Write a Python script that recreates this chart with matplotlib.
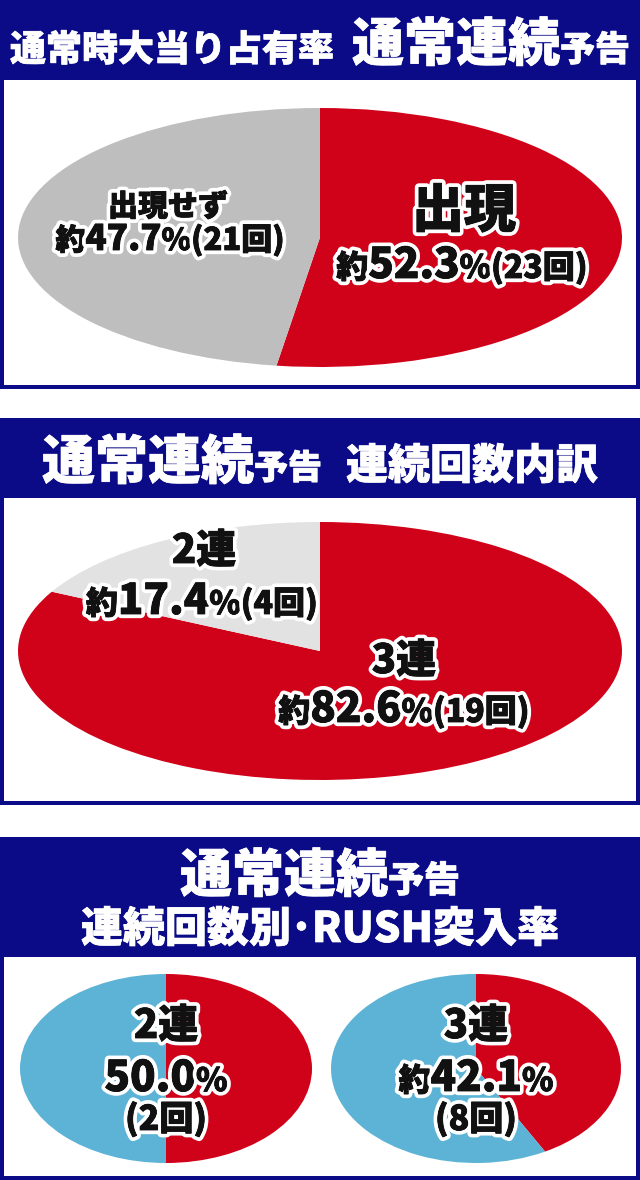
import matplotlib.pyplot as plt
import matplotlib.patheffects as pe
from matplotlib.patches import Rectangle

plt.rcParams['font.family'] = ['Noto Sans CJK JP', 'DejaVu Sans']

# colours
NAVY = "#0b0b88"
RED = "#d0021a"
GRAY = "#bebebe"
LIGHT = "#e2e2e2"
BLUE = "#5db3d6"

# data: share of 通常連続予告 among normal-time hits
share_labels = ["出現", "出現せず"]
share_pct = [52.3, 47.7]
share_cnt = [23, 21]

# breakdown of chain count
chain_labels = ["3連", "2連"]
chain_pct = [82.6, 17.4]
chain_cnt = [19, 4]

# RUSH entry rate by chain count
rush_labels = ["2連", "3連"]
rush_pct = [50.0, 42.1]
rush_cnt = [2, 8]
rush_approx = [False, True]

W, H = 640, 1180
fig = plt.figure(figsize=(W / 100, H / 100), dpi=100)
fig.patch.set_facecolor("white")

base = fig.add_axes([0, 0, 1, 1], zorder=0)
base.set_xlim(0, W)
base.set_ylim(H, 0)
base.axis("off")

top = fig.add_axes([0, 0, 1, 1], zorder=5)
top.set_xlim(0, W)
top.set_ylim(H, 0)
top.axis("off")
top.patch.set_alpha(0)


def panel(y0, y_head, y1):
    # navy frame + header, white body
    base.add_patch(Rectangle((0, y0), W, y1 - y0, color=NAVY, lw=0))
    base.add_patch(Rectangle((4, y_head), W - 8, y1 - y_head - 4, color="white", lw=0))


panel(0, 80, 389)
panel(418, 498, 805)
panel(837, 957, 1180)


def pie_axes(x0, y0, x1, y1, values, colors):
    ax = fig.add_axes([x0 / W, 1 - y1 / H, (x1 - x0) / W, (y1 - y0) / H], zorder=2)
    ax.pie(values, colors=colors, startangle=90, counterclock=False,
           radius=1, wedgeprops=dict(linewidth=0))
    ax.set_aspect("auto")
    ax.set_xlim(-1, 1)
    ax.set_ylim(-1, 1)
    ax.axis("off")
    return ax


pie_axes(18, 108, 622, 367, share_pct, [RED, GRAY])
pie_axes(18, 522, 622, 780, chain_pct, [RED, LIGHT])
for i, (x0, x1) in enumerate([(20, 312), (331, 621)]):
    pie_axes(x0, 974, x1, 1163, [rush_pct[i], 100 - rush_pct[i]], [RED, BLUE])

renderer = fig.canvas.get_renderer()
INK = "#111111"
outlined = [pe.withStroke(linewidth=6, foreground="white"),
            pe.withStroke(linewidth=0.6, foreground=INK)]
heavy_white = [pe.withStroke(linewidth=0.5, foreground="white")]


def rich(x, y, pieces, color=INK, effects=outlined):
    # pieces: (text, size in px); centred at x, baseline y
    texts = []
    for s, px in pieces:
        t = top.text(0, y, s, fontsize=px * 0.72, fontweight="black", color=color,
                     ha="left", va="baseline", path_effects=effects)
        texts.append(t)
    widths = [t.get_window_extent(renderer).width for t in texts]
    cur = x - sum(widths) / 2
    for t, w in zip(texts, widths):
        t.set_x(cur)
        cur += w


# headers
rich(320, 61, [("通常時大当り占有率", 36), ("　", 18), ("通常連続", 52), ("予告", 35)],
     color="white", effects=heavy_white)
rich(320, 479, [("通常連続", 53), ("予告", 34), ("　", 24), ("連続回数内訳", 42)],
     color="white", effects=heavy_white)
rich(320, 892, [("通常連続", 52), ("予告", 36)], color="white", effects=heavy_white)
rich(320, 942, [("連続回数別", 42), ("･", 42), ("RUSH突入率", 42)],
     color="white", effects=heavy_white)

# pie 1
rich(464, 227, [(share_labels[0], 52)])
rich(462, 278, [("約", 32), (f"{share_pct[0]:.1f}", 42), ("%", 32), (f"({share_cnt[0]}回)", 32)])
rich(168, 216, [(share_labels[1], 30)])
rich(170, 250, [("約", 30), (f"{share_pct[1]:.1f}", 35), ("%", 30), (f"({share_cnt[1]}回)", 31)])

# pie 2
rich(204, 563, [(chain_labels[1], 40)])
rich(202, 614, [("約", 32), (f"{chain_pct[1]:.1f}", 42), ("%", 32), (f"({chain_cnt[1]}回)", 32)])
rich(404, 673, [(chain_labels[0], 40)])
rich(404, 722, [("約", 32), (f"{chain_pct[0]:.1f}", 42), ("%", 32), (f"({chain_cnt[0]}回)", 32)])

# pie 3
for cx, lab, p, c, ap in zip([166, 476], rush_labels, rush_pct, rush_cnt, rush_approx):
    rich(cx, 1038, [(lab, 40)])
    parts = [("約", 32)] if ap else []
    rich(cx, 1091, parts + [(f"{p:.1f}", 42), ("%", 32)])
    rich(cx, 1130, [(f"({c}回)", 34)])

fig.savefig("out.png", dpi=100, facecolor="white")
